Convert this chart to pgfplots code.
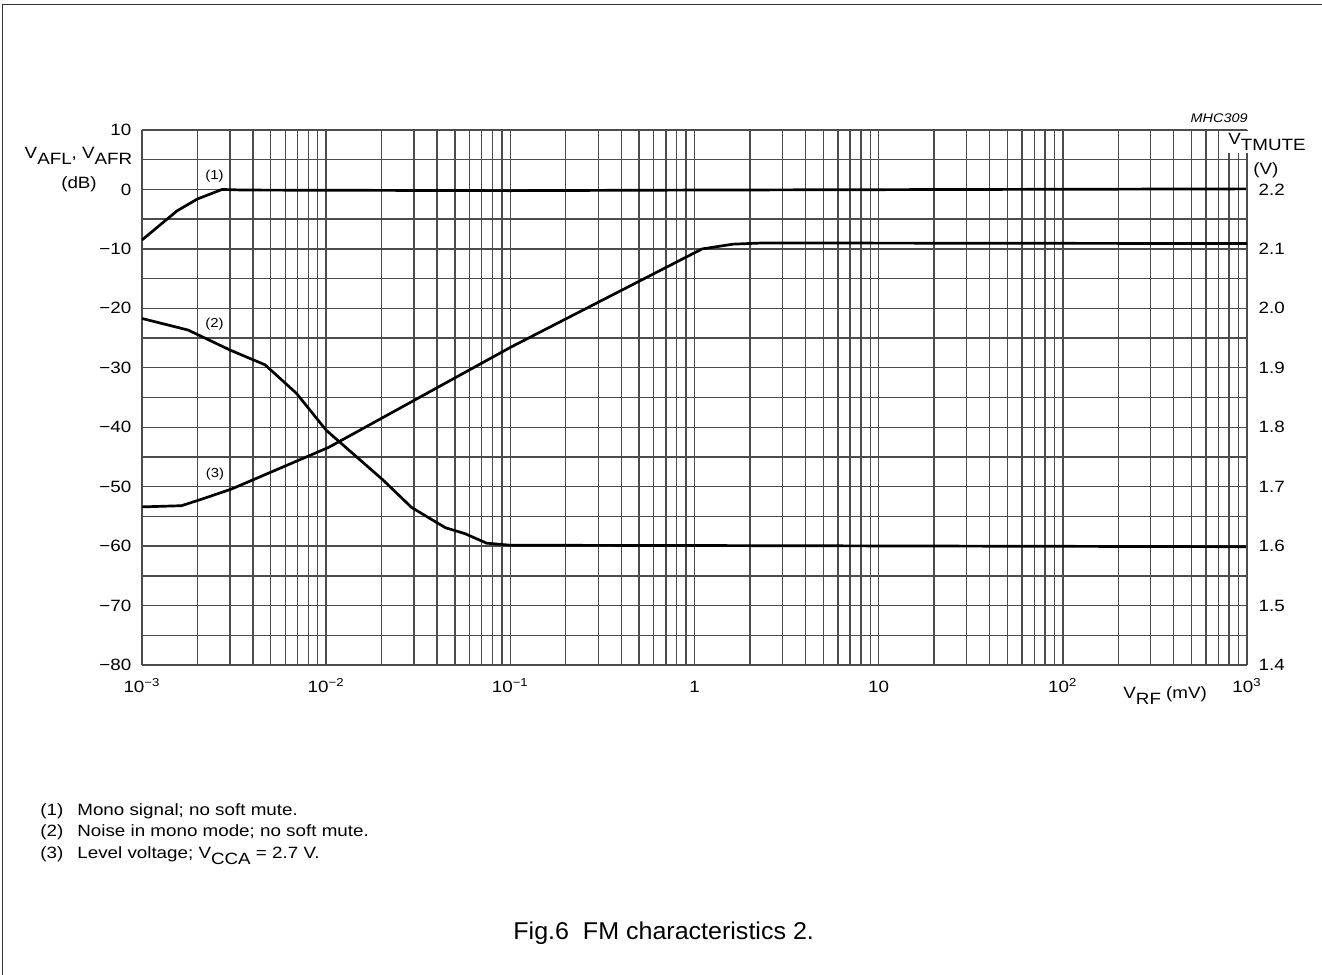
\documentclass[border=0pt]{standalone}
\usepackage{fontspec}
\setmainfont{Liberation Sans}[FakeStretch=1.15]
\newfontfamily\capfont{Liberation Sans}[FakeStretch=1.03]
\usepackage{pgfplots}
\pgfplotsset{compat=1.18}
\newcommand{\sub}[1]{\raisebox{-0.7ex}{#1}}
\newcommand{\lab}{\fontsize{8.2}{9.8}\selectfont}
\begin{document}
\begin{tikzpicture}
\path[use as bounding box] (0,0) rectangle (661bp,-487.5bp);
\draw[line width=0.8bp,black!80] (1.3bp,-487.5bp) -- (1.3bp,-2.3bp) -- (661bp,-2.3bp);
\begin{axis}[
  at={(71bp,-332.5bp)}, anchor=south west,
  scale only axis, width=552.5bp, height=267.5bp,
  xmode=log, xmin=1e-3, xmax=1e3, ymin=-80, ymax=10,
  xtick={1e-3,1e-2,1e-1,1,10,100,1000},
  xticklabels={10\textsuperscript{−3},10\textsuperscript{−2},10\textsuperscript{−1},1,10,10\textsuperscript{2},10\textsuperscript{3}},
  minor xtick={2e-3,3e-3,4e-3,5e-3,6e-3,7e-3,8e-3,9e-3,
               2e-2,3e-2,4e-2,5e-2,6e-2,7e-2,8e-2,9e-2,
               2e-1,3e-1,4e-1,5e-1,6e-1,7e-1,8e-1,9e-1,
               2,3,4,5,6,7,8,9,20,30,40,50,60,70,80,90,
               200,300,400,500,600,700,800,900},
  ytick={-80,-70,-60,-50,-40,-30,-20,-10,0,10},
  yticklabels={−80,−70,−60,−50,−40,−30,−20,−10,0,10},
  minor ytick={-75,-65,-55,-45,-35,-25,-15,-5,5},
  grid=both,
  major grid style={black!70, line width=0.7bp},
  minor grid style={black!70, line width=0.7bp},
  major tick length=0pt, minor tick length=0pt,
  axis line style={black!70, line width=0.7bp},
  tick label style={font=\lab},
  xticklabel style={anchor=base, yshift=-13.5bp},
  yticklabel style={anchor=east, xshift=-1.8bp},
  axis y line*=left,
  clip=true,
]
\addplot[black, line width=1.35bp, line join=round] coordinates {
 (1e-3,-8.5) (1.55e-3,-3.6) (2e-3,-1.6) (2.72e-3,0) (3.6e-3,-0.1)
 (0.1,-0.2) (1,-0.1) (1000,0.1)};
\addplot[black, line width=1.35bp, line join=round] coordinates {
 (1e-3,-21.7) (1.78e-3,-23.65) (3.0e-3,-27.0) (4.66e-3,-29.5) (6.9e-3,-34.3)
 (1e-2,-40.5) (2.04e-2,-48.9) (2.91e-2,-53.5) (4.44e-2,-56.9) (5.67e-2,-57.9)
 (7.43e-2,-59.5) (0.1,-59.85) (1,-59.9) (1000,-60.1)};
\end{axis}
\begin{axis}[
  at={(71bp,-332.5bp)}, anchor=south west,
  scale only axis, width=552.5bp, height=267.5bp,
  xmode=log, xmin=1e-3, xmax=1e3, ymin=1.4, ymax=2.3,
  axis y line*=right, axis x line=none,
  ytick={1.4,1.5,1.6,1.7,1.8,1.9,2.0,2.1,2.2},
  yticklabels={1.4,1.5,1.6,1.7,1.8,1.9,2.0,2.1,2.2},
  major tick length=0pt, minor tick length=0pt,
  axis line style={black!70, line width=0.7bp},
  tick label style={font=\lab},
  yticklabel style={anchor=west, xshift=2.3bp},
]
\addplot[black, line width=1.35bp, line join=round] coordinates {
 (1e-3,1.666) (1.64e-3,1.668) (2.11e-3,1.679) (3.06e-3,1.696) (1.03e-2,1.766)
 (0.101,1.935) (1.1,2.100) (1.62,2.108) (2.35,2.110) (1000,2.109)};
\end{axis}
% axis labels
\node[anchor=base, font=\lab, inner sep=0pt] at (39.25bp,-79.35bp) {V\sub{AFL}, V\sub{AFR}};
\node[anchor=base, font=\lab, inner sep=0pt] at (39.5bp,-94.3bp) {(dB)};
\node[anchor=base west, font=\lab, fill=white, inner sep=1bp] at (613bp,-72.35bp) {V\sub{TMUTE}};
\node[anchor=base west, font=\lab, inner sep=0pt] at (626.5bp,-87.3bp) {(V)};
\node[anchor=base east, font=\fontsize{6.3}{7.5}\selectfont\itshape, inner sep=0pt] at (624bp,-61bp) {MHC309};
\node[anchor=base west, font=\lab, inner sep=0pt] at (561.5bp,-349.35bp) {V\sub{RF} (mV)};
% curve labels
\node[font=\fontsize{6.5}{7.5}\selectfont, inner sep=0pt] at (107.25bp,-88bp) {(1)};
\node[font=\fontsize{6.5}{7.5}\selectfont, inner sep=0pt] at (107.25bp,-162bp) {(2)};
\node[font=\fontsize{6.5}{7.5}\selectfont, inner sep=0pt] at (107.5bp,-237bp) {(3)};
% footnotes
\node[anchor=base west, font=\lab, inner sep=0pt] at (20bp,-407.5bp) {(1)};
\node[anchor=base west, font=\lab, inner sep=0pt] at (38.5bp,-407.5bp) {Mono signal; no soft mute.};
\node[anchor=base west, font=\lab, inner sep=0pt] at (20bp,-418.35bp) {(2)};
\node[anchor=base west, font=\lab, inner sep=0pt] at (38.5bp,-418.35bp) {Noise in mono mode; no soft mute.};
\node[anchor=base west, font=\lab, inner sep=0pt] at (20bp,-429bp) {(3)};
\node[anchor=base west, font=\lab, inner sep=0pt] at (38.5bp,-429bp) {Level voltage; V\sub{CCA} = 2.7 V.};
% caption
\node[anchor=base west, font=\capfont\fontsize{12.2}{14}\selectfont, inner sep=0pt] at (256.5bp,-469.5bp) {Fig.6\ \ FM characteristics 2.};
\end{tikzpicture}
\end{document}
